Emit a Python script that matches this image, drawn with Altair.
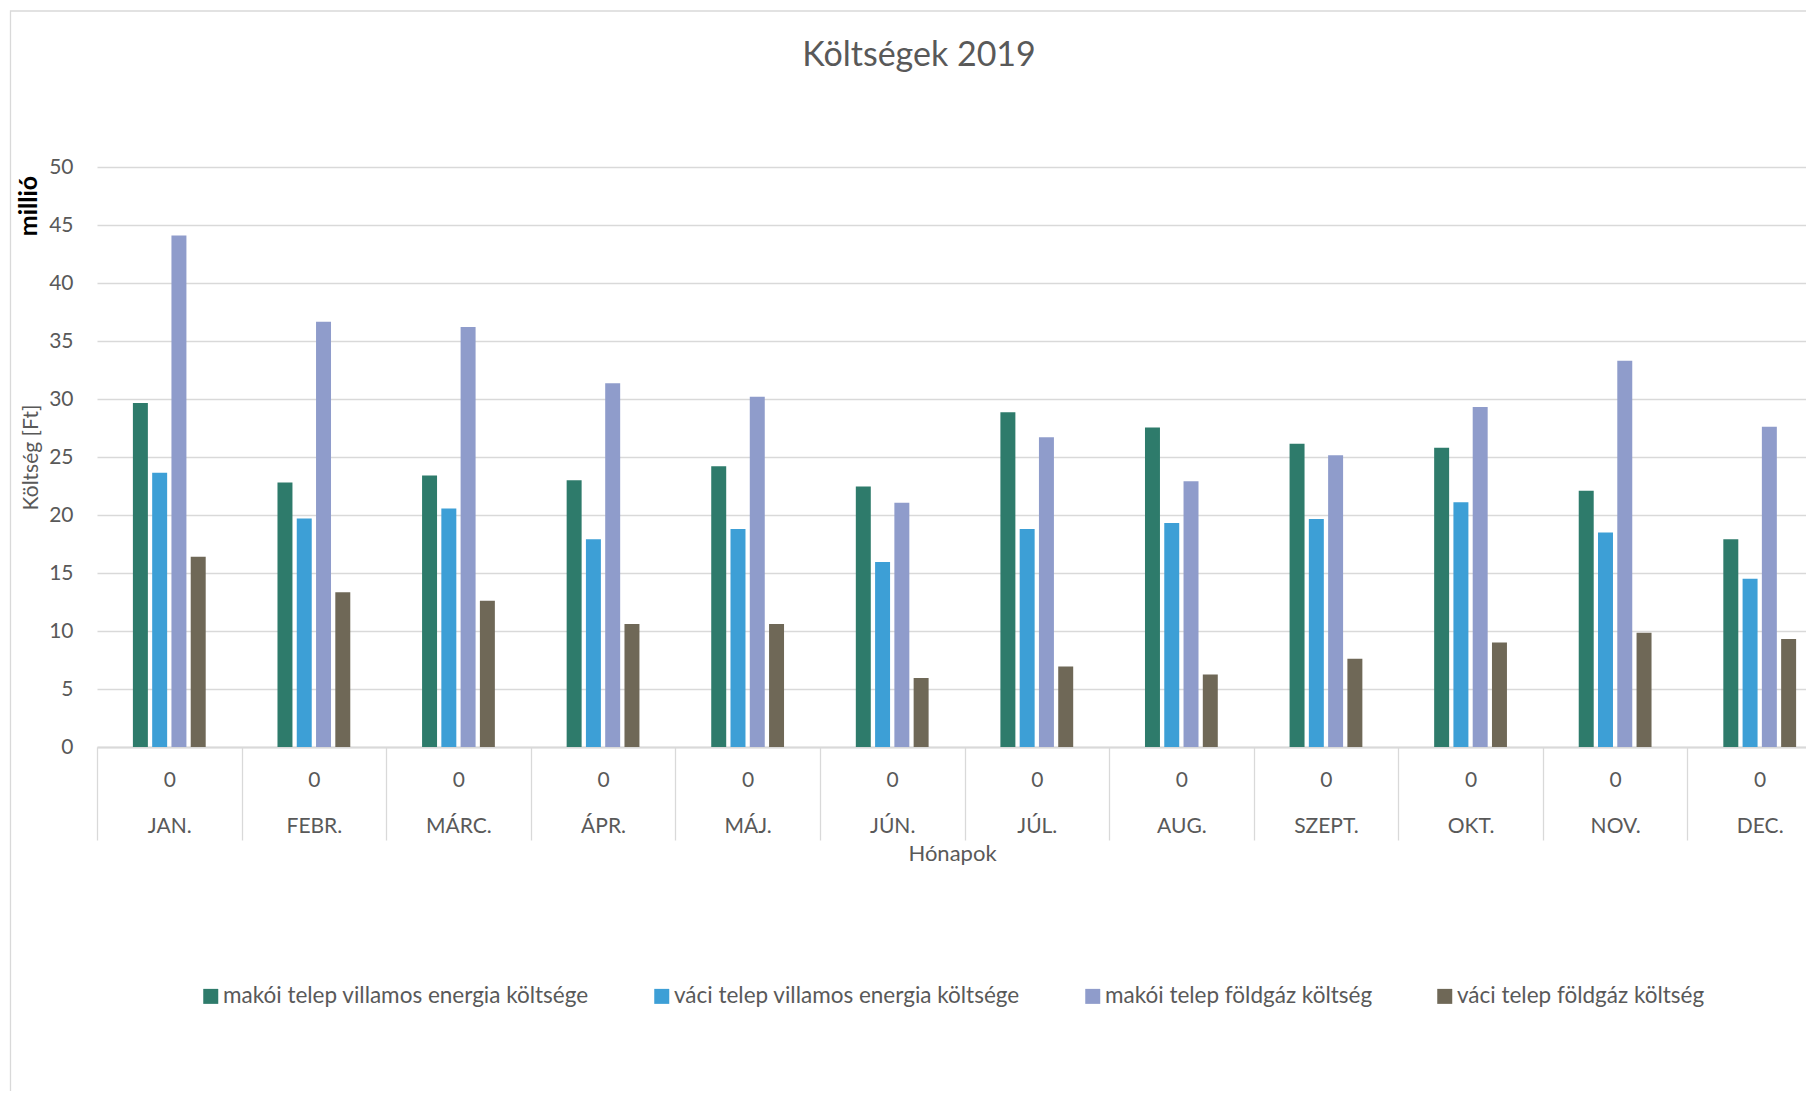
import altair as alt
import pandas as pd

# ---- data ----
months = ["JAN.", "FEBR.", "MÁRC.", "ÁPR.", "MÁJ.", "JÚN.", "JÚL.", "AUG.",
          "SZEPT.", "OKT.", "NOV.", "DEC."]
level0 = ["0"] * 12  # first level of Excel's multi-level category axis
series = ["makói telep villamos energia költsége",
          "váci telep villamos energia költsége",
          "makói telep földgáz költség",
          "váci telep földgáz költség"]
mako_villany = [29.65, 22.8, 23.4, 23.0, 24.2, 22.45, 28.85, 27.55, 26.15, 25.8, 22.1, 17.9]
vac_villany = [23.65, 19.7, 20.55, 17.9, 18.8, 15.95, 18.8, 19.3, 19.65, 21.1, 18.5, 14.5]
mako_gaz = [44.1, 36.65, 36.2, 31.35, 30.2, 21.05, 26.7, 22.9, 25.15, 29.3, 33.3, 27.6]
vac_gaz = [16.4, 13.35, 12.6, 10.6, 10.6, 5.95, 6.95, 6.25, 7.6, 9.0, 9.85, 9.3]
colors = ["#2E7B6B", "#3D9FD6", "#8F9CCB", "#6F6857"]
y_ticks = [0, 5, 10, 15, 20, 25, 30, 35, 40, 45, 50]
chart_title = "Költségek 2019"
y_title = "Költség [Ft]"
x_title = "Hónapok"
unit_label = "millió"

FONT = "Lato"
TEXT = "#595959"
GRID = "#D9D9D9"

labels = [f"{a}|{m}" for a, m in zip(level0, months)]
rows = []
for s, vals in zip(series, [mako_villany, vac_villany, mako_gaz, vac_gaz]):
    for lab, v in zip(labels, vals):
        rows.append({"label": lab, "series": s, "value": v})
df = pd.DataFrame(rows)

one = pd.DataFrame({"k": [0]})

frame = alt.Chart(one).mark_rect(fill="transparent", stroke=GRID, strokeWidth=1.3).encode(
    x=alt.value(-86.5), x2=alt.value(2000), y=alt.value(-156), y2=alt.value(1300)
)

bars = alt.Chart(df).mark_bar().encode(
    x=alt.X("label:N", sort=labels,
            scale=alt.Scale(range=[0, 1735], paddingInner=0, paddingOuter=0),
            axis=alt.Axis(title=x_title, labelExpr="split(datum.label, '|')",
                          tickBand="extent", tickSize=93, tickColor=GRID, tickWidth=1.3,
                          domainColor=GRID, domainWidth=2, labelAngle=0,
                          labelFont=FONT, labelFontSize=21, labelColor=TEXT,
                          labelBaseline="top", labelPadding=-71, labelLineHeight=46,
                          grid=False, titleFont=FONT, titleFontSize=22,
                          titleFontWeight="normal", titleColor=TEXT,
                          titleX=855, titleY=106, titleBaseline="middle",
                          titleAlign="center")),
    xOffset=alt.XOffset("series:N", sort=series,
                        scale=alt.Scale(range=[35.9, 108.7], paddingInner=0.223,
                                        paddingOuter=0)),
    y=alt.Y("value:Q", scale=alt.Scale(domain=[0, 50], nice=False),
            axis=alt.Axis(values=y_ticks, title=y_title, grid=True, gridColor=GRID,
                          gridWidth=1.3, domain=False, ticks=False, labelPadding=24,
                          labelFont=FONT, labelFontSize=21, labelColor=TEXT,
                          titleFont=FONT, titleFontSize=21, titleFontWeight="normal",
                          titleColor=TEXT, titleX=-66, titleY=290, titleAngle=270,
                          titleAlign="center", titleBaseline="middle")),
    color=alt.Color("series:N", sort=series,
                    scale=alt.Scale(domain=series, range=colors),
                    legend=alt.Legend(title=None, orient="none", legendX=102.5, legendY=818,
                                      direction="horizontal", symbolType="square",
                                      symbolSize=225, symbolStrokeWidth=0,
                                      labelFont=FONT, labelFontSize=22.5, labelColor=TEXT,
                                      labelOffset=1, columnPadding=61, labelLimit=800)),
)

title_text = alt.Chart(one).mark_text(font=FONT, fontSize=34, color=TEXT,
                                      align="center", baseline="alphabetic").encode(
    x=alt.value(822), y=alt.value(-101), text=alt.value(chart_title)
)

unit_text = alt.Chart(one).mark_text(font=FONT, fontSize=25, fontWeight="bold",
                                     color="black", angle=270, align="center",
                                     baseline="middle").encode(
    x=alt.value(-68.5), y=alt.value(39), text=alt.value(unit_label)
)

chart = alt.layer(frame, bars, title_text, unit_text).properties(
    width=1709, height=580,
    autosize=alt.AutoSizeParams(type="none"),
    padding={"left": 89, "top": 159, "right": 0, "bottom": 344},
    background="white",
).configure_view(strokeWidth=0)

chart.save("out.html", embed_options={"renderer": "svg", "actions": False})
